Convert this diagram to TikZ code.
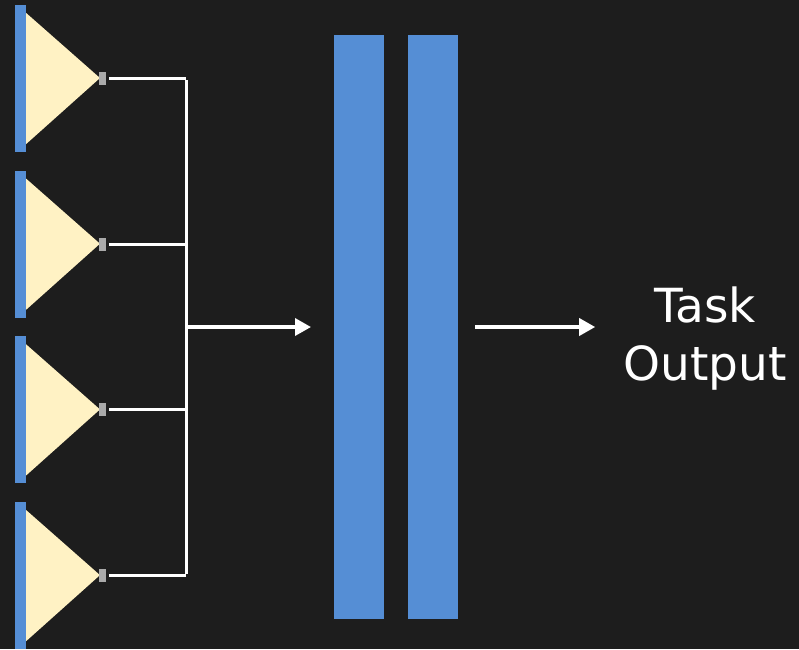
\documentclass[tikz,border=0pt]{standalone}
\usepackage{fontspec}
\usetikzlibrary{positioning}
\usetikzlibrary{arrows.meta}
\newfontfamily\labelfont{DejaVu Sans}
\definecolor{bgdark}{RGB}{29,29,29}
\definecolor{layerblue}{RGB}{85,142,213}
\definecolor{cream}{RGB}{255,242,196}
\definecolor{portgray}{RGB}{170,170,170}

\begin{document}
\begin{tikzpicture}[x=1pt,y=-1pt,
  bar/.style={fill=layerblue, inner sep=0, minimum width=11pt, minimum height=147pt},
  port/.style={fill=portgray, inner sep=0, minimum width=7pt, minimum height=13pt},
  layer/.style={fill=layerblue, inner sep=0, minimum width=50pt, minimum height=584pt},
  wire/.style={draw=white, line width=3pt},
  flow/.style={draw=white, line width=3.5pt, -{Triangle[length=16pt,width=17pt]}}]
\fill[bgdark] (0,0) rectangle (799,649);
\useasboundingbox (0,0) rectangle (799,649);

% encoders
\node(b1)[bar] at (20.5,78.5) {};
\node(b2)[bar] at (20.5,244.2) {};
\node(b3)[bar] at (20.5,409.9) {};
\node(b4)[bar] at (20.5,575.6) {};

\fill[cream] (b1.east |- 0,13) -- (100,78) -- (b1.east |- 0,144) -- cycle;
\fill[cream] (b2.east |- 0,178.7) -- (100,243.7) -- (b2.east |- 0,309.7) -- cycle;
\fill[cream] (b3.east |- 0,344.4) -- (100,409.4) -- (b3.east |- 0,475.4) -- cycle;
\fill[cream] (b4.east |- 0,510.1) -- (100,575.1) -- (b4.east |- 0,641.1) -- cycle;

\node(s1)[port] at (102.5,78.5) {};
\node(s2)[port] at (102.5,244.2) {};
\node(s3)[port] at (102.5,409.9) {};
\node(s4)[port] at (102.5,575.6) {};

% merge
\coordinate(j1) at (186,78.5);
\coordinate(j2) at (186,244.2);
\coordinate(j3) at (186,409.9);
\coordinate(j4) at (186,575.6);
\coordinate(m) at (186,327);
\coordinate(mi) at (311,327);

\draw[wire] ([xshift=3pt]s1.east)--(j1);
\draw[wire] ([xshift=3pt]s2.east)--(j2);
\draw[wire] ([xshift=3pt]s3.east)--(j3);
\draw[wire] ([xshift=3pt]s4.east)--(j4);
\draw[wire] ([yshift=-1.5pt]j1)--([yshift=1.5pt]j4);
\draw[flow] (m)--(mi);

% head
\node(L1)[layer] at (359,327) {};
\node(L2)[layer] at (433,327) {};

\node(out)[text=white, align=center, font=\labelfont\fontsize{47}{58}\selectfont] at (705,339) {Task\\Output};

\draw[flow] ([xshift=17pt]L2.east)--([xshift=137pt]L2.east);
\end{tikzpicture}
\end{document}
